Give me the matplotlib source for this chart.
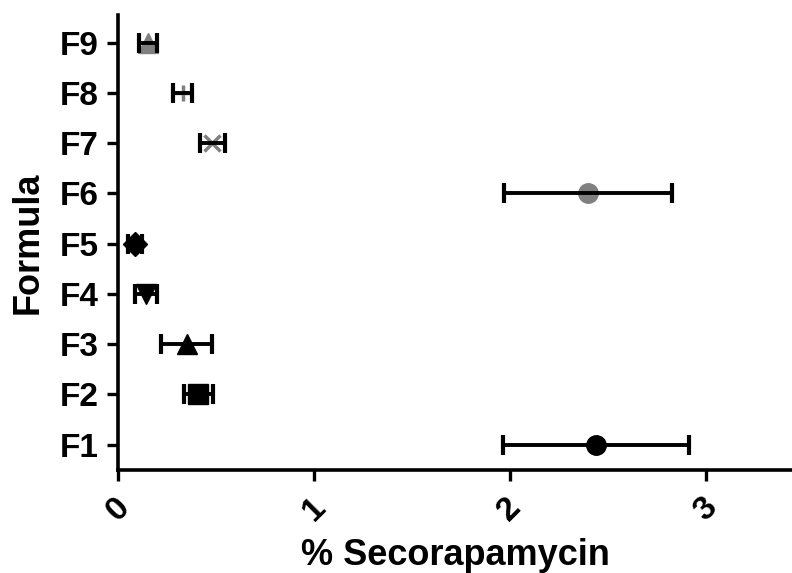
import matplotlib
matplotlib.use("Agg")
import matplotlib.pyplot as plt

# values (mean and +/- error)
formulas = ["F1", "F2", "F3", "F4", "F5", "F6", "F7", "F8", "F9"]
means = [2.44, 0.41, 0.35, 0.143, 0.087, 2.40, 0.48, 0.33, 0.153]
errors = [0.475, 0.075, 0.13, 0.055, 0.035, 0.43, 0.064, 0.05, 0.045]
markers = ["o", "s", "^", "v", "D", "o", "x", "+", "^"]
colors = ["black", "black", "black", "black", "black",
          "#808080", "#808080", "#808080", "#808080"]
x_ticks = [0, 1, 2, 3]

plt.rcParams['font.family'] = ['Liberation Sans', 'DejaVu Sans']
plt.rcParams['font.weight'] = 'bold'

fig = plt.figure(figsize=(7.92, 5.73), dpi=100)
ax = fig.add_axes([0.149, 0.180, 0.851, 0.794])

ypos = list(range(1, len(formulas) + 1))
for y, m, e, mk, c in zip(ypos, means, errors, markers, colors):
    if mk in ("x", "+"):
        ax.plot(m, y, marker=mk, color=c, markersize=12, mew=2.5, ls='none', zorder=2)
    elif mk == "D":
        ax.plot(m, y, marker=mk, color=c, markersize=12, ls='none', zorder=2)
    else:
        ax.plot(m, y, marker=mk, color=c, markersize=14, ls='none', zorder=2)
    _, caps, bars = ax.errorbar(m, y, xerr=e, fmt='none', ecolor='black',
                                elinewidth=2.8, capsize=7.2, capthick=3.0, zorder=3)
    for cap in caps:
        cap.set_solid_capstyle('round')

ax.set_xlim(0, 3.44)
ax.set_ylim(0.5, 9.55)
ax.set_yticks(ypos)
ax.set_yticklabels(formulas, fontsize=24, fontweight='bold')
ax.set_xticks(x_ticks)
ax.set_xticklabels([str(t) for t in x_ticks], fontsize=24, fontweight='bold',
                   rotation=45, ha='center')

ax.spines['top'].set_visible(False)
ax.spines['right'].set_visible(False)
for s in ('left', 'bottom'):
    ax.spines[s].set_linewidth(2.6)
ax.tick_params(axis='both', length=8, width=2.4)
ax.tick_params(axis='y', pad=6)
ax.tick_params(axis='x', pad=8)

ax.set_xlabel("% Secorapamycin", fontsize=26, fontweight='bold', labelpad=8)
ax.set_ylabel("Formula", fontsize=26, fontweight='bold')
ax.yaxis.set_label_coords(-0.108, 0.5)

fig.savefig("out.png", dpi=100)
